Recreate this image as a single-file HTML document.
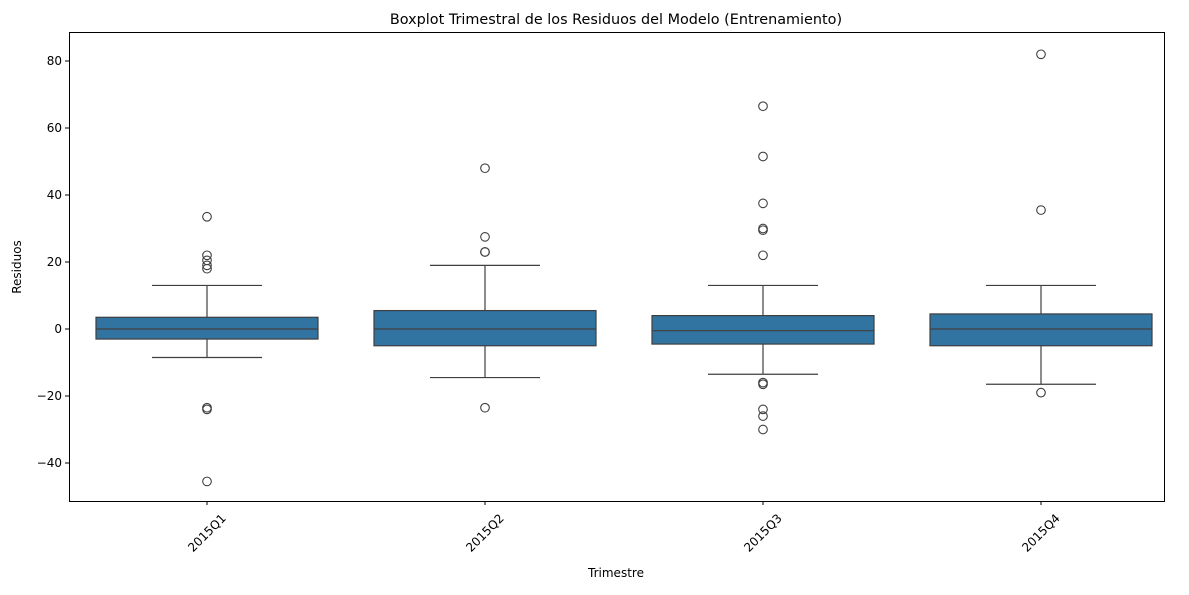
<!DOCTYPE html>
<html><head><meta charset="utf-8"><style>
body{margin:0;background:#fff;font-family:"Liberation Sans","DejaVu Sans",sans-serif;}
svg text{font-family:"DejaVu Sans","Liberation Sans",sans-serif;}
</style></head><body>
<svg id="chart" width="1189" height="590" xmlns="http://www.w3.org/2000/svg">
<text x="616" y="24" font-size="14.4" text-anchor="middle">Boxplot Trimestral de los Residuos del Modelo (Entrenamiento)</text>
<g id="plot"></g>
<rect x="69.5" y="32.5" width="1095" height="469" fill="none" stroke="#000" stroke-width="1"/>
<text x="616" y="577" font-size="12" text-anchor="middle">Trimestre</text>
<text transform="translate(21,267) rotate(-90)" font-size="12" text-anchor="middle">Residuos</text>
</svg>
<script>
const categories=["2015Q1","2015Q2","2015Q3","2015Q4"];
const q1s=[-3,-5,-4.5,-5];
const q3s=[3.5,5.5,4,4.5];
const medians=[0,0,-0.5,0];
const whiskLow=[-8.5,-14.5,-13.5,-16.5];
const whiskHigh=[13,19,13,13];
const outliers=[[33.5,22,20.5,19,18,-23.5,-24,-45.5],[48,27.5,23,23,-23.5],[66.5,51.5,37.5,30,29.5,22,-16,-16.5,-24,-26,-30],[82,35.5,-19]];
const yTicks=[-40,-20,0,20,40,60,80];
const NS="http://www.w3.org/2000/svg";
const g=document.getElementById('plot');
const y=v=>329-3.35*v;
const x=i=>207+278*i;
const bw=222;
function mk(t,a){const e=document.createElementNS(NS,t);for(const k in a)e.setAttribute(k,a[k]);g.appendChild(e);return e;}
yTicks.forEach(t=>{
 const l=mk('line',{x1:65,x2:69,y1:y(t),y2:y(t),stroke:'#000'});
 
 
 const tx=mk('text',{x:62,y:y(t)+4,'font-size':12,'text-anchor':'end'});
 tx.textContent=t<0?'\u2212'+(-t):t;
 
 
});
categories.forEach((c,i)=>{
 const cx=x(i);
 const tk=mk('line',{x1:cx,x2:cx,y1:501,y2:505,stroke:'#000'});
 
 
 const ly=533;
 const tl=mk('text',{x:cx,y:ly+4,'font-size':12,'text-anchor':'middle',transform:`rotate(-45 ${cx} ${ly})`});
 tl.textContent=c;
 
 
 const w=mk('line',{x1:cx,x2:cx,y1:y(whiskHigh[i]),y2:y(q3s[i]),stroke:'#3f3f3f','stroke-width':1.2});
 
 
 const w2=mk('line',{x1:cx,x2:cx,y1:y(q1s[i]),y2:y(whiskLow[i]),stroke:'#3f3f3f','stroke-width':1.2});
 
 
 [whiskHigh[i],whiskLow[i]].forEach(v=>{
  const cap=mk('line',{x1:cx-55,x2:cx+55,y1:y(v),y2:y(v),stroke:'#3f3f3f','stroke-width':1.2});
  
  
 });
 const b=mk('rect',{x:cx-bw/2,y:y(q3s[i]),width:bw,height:y(q1s[i])-y(q3s[i]),fill:'#3274a1',stroke:'#3f3f3f','stroke-width':1.2});
 
 
 const m=mk('line',{x1:cx-bw/2,x2:cx+bw/2,y1:y(medians[i]),y2:y(medians[i]),stroke:'#3f3f3f','stroke-width':1.2});
 
 
 outliers[i].forEach(v=>{
  const o=mk('circle',{cx:cx,cy:y(v),r:4.3,fill:'none',stroke:'#3f3f3f','stroke-width':1.1});
  
  
 });
});
</script>
</body></html>
